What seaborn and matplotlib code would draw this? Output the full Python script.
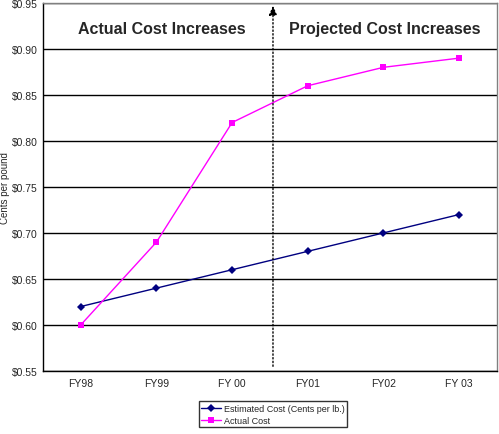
import matplotlib
matplotlib.use("Agg")
import matplotlib.pyplot as plt
import seaborn as sns
import pandas as pd
from matplotlib.ticker import FuncFormatter
from matplotlib.lines import Line2D

categories = ["FY98", "FY99", "FY00", "FY01", "FY02", "FY03"]
tick_labels = ["FY98", "FY99", "FY 00", "FY01", "FY02", "FY 03"]
estimated = [0.62, 0.64, 0.66, 0.68, 0.70, 0.72]
actual = [0.60, 0.69, 0.82, 0.86, 0.88, 0.89]

df = pd.DataFrame({
    "x": list(range(len(categories))) * 2,
    "value": estimated + actual,
    "series": ["Estimated Cost (Cents per lb.)"] * 6 + ["Actual Cost"] * 6,
})

sns.set_style("white")
plt.rcParams['font.family'] = ['Liberation Sans', 'DejaVu Sans']

fig = plt.figure(figsize=(4.99, 4.35), dpi=100)
ax = fig.add_axes([0.086, 0.145, 0.91, 0.846])

palette = {"Estimated Cost (Cents per lb.)": "#000080", "Actual Cost": "#FF00FF"}
sns.lineplot(data=df, x="x", y="value", hue="series", style="series",
             markers={"Estimated Cost (Cents per lb.)": "D", "Actual Cost": "s"},
             dashes=False, palette=palette, ax=ax, linewidth=1,
             markersize=4.5, markeredgewidth=0, legend=False)

ax.set_xlim(-0.5, 5.5)
ax.set_ylim(0.55, 0.95)
ax.set_yticks([0.55, 0.60, 0.65, 0.70, 0.75, 0.80, 0.85, 0.90, 0.95])
ax.yaxis.set_major_formatter(FuncFormatter(lambda v, p: f"${v:.2f}"))
ax.set_xticks(range(6))
ax.set_xticklabels(tick_labels)
ax.set_xticks([i - 0.5 for i in range(7)], minor=True)
ax.tick_params(axis="x", which="major", length=0, labelsize=7.5, pad=5)
ax.tick_params(axis="x", which="minor", length=4, direction="out", width=1, color="black")
ax.tick_params(axis="y", length=3, direction="out", labelsize=7.5, width=1, color="black", pad=1)
ax.grid(axis="y", color="black", linewidth=1)
ax.set_axisbelow(True)
ax.set_xlabel("")
ax.set_ylabel("")
fig.text(5.5 / 499, 1 - 188 / 435, "Cents per pound", rotation=90, fontsize=7,
         ha="center", va="center")

for side in ["left", "bottom"]:
    ax.spines[side].set_color("black")
    ax.spines[side].set_linewidth(1)
for side in ["top", "right"]:
    ax.spines[side].set_color("#808080")
    ax.spines[side].set_linewidth(1)

ax.annotate("", xy=(2.54, 0.95), xytext=(2.54, 0.552),
            arrowprops=dict(arrowstyle="-|>,head_length=0.5,head_width=0.22",
                            linestyle=":", color="black",
                            linewidth=1, mutation_scale=11))

ax.text(1.07, 0.9217, "Actual Cost Increases", fontsize=11.5, fontweight="bold",
        ha="center", va="center")
ax.text(4.02, 0.9217, "Projected Cost Increases", fontsize=11.5, fontweight="bold",
        ha="center", va="center")

handles = [
    Line2D([0], [0], color="#000080", marker="D", markersize=4, linewidth=1, markeredgewidth=0),
    Line2D([0], [0], color="#FF00FF", marker="s", markersize=4, linewidth=1, markeredgewidth=0),
]
leg = fig.legend(handles, ["Estimated Cost (Cents per lb.)", "Actual Cost"],
                 loc="lower left", bbox_to_anchor=(194 / 499, 2 / 435),
                 fontsize=6.5, frameon=True, fancybox=False, borderpad=0.3,
                 labelspacing=0.3, handlelength=2.2, handletextpad=0.3)
leg.get_frame().set_edgecolor("black")
leg.get_frame().set_linewidth(1)

fig.savefig("out.png", dpi=100)
